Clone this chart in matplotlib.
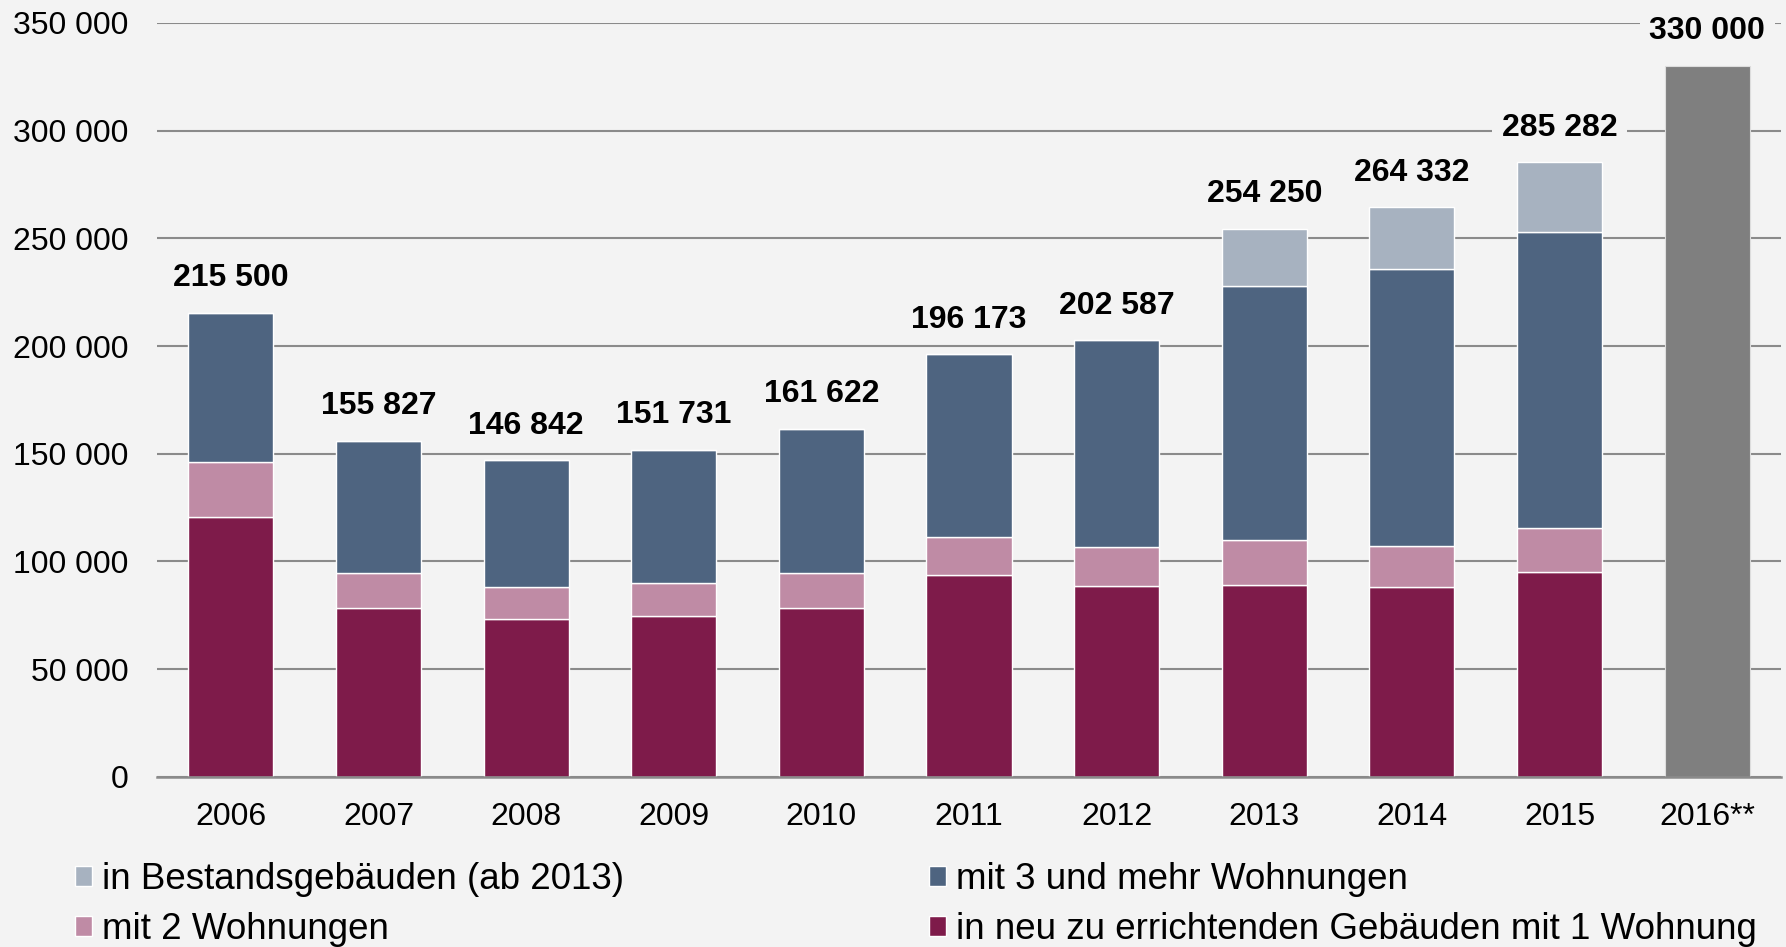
import matplotlib
matplotlib.use("Agg")
import matplotlib.pyplot as plt
import numpy as np

plt.rcParams['font.family'] = ['Liberation Sans', 'DejaVu Sans']

years = ["2006", "2007", "2008", "2009", "2010", "2011", "2012", "2013", "2014", "2015", "2016**"]
one_family = [120800, 78500, 73300, 74800, 78500, 93700, 88500, 89200, 88200, 95100, 0]
two_family = [25300, 16200, 15000, 15300, 16300, 17500, 18100, 20500, 19100, 20500, 0]
multi_family = [69400, 61127, 58542, 61631, 66822, 84973, 95987, 118000, 128500, 137200, 0]
existing = [0, 0, 0, 0, 0, 0, 0, 26550, 28532, 32482, 0]
forecast = [0, 0, 0, 0, 0, 0, 0, 0, 0, 0, 330000]
totals = [215500, 155827, 146842, 151731, 161622, 196173, 202587, 254250, 264332, 285282, 330000]

labels = {
    "existing": "in Bestandsgebäuden (ab 2013)",
    "two": "mit 2 Wohnungen",
    "multi": "mit 3 und mehr Wohnungen",
    "one": "in neu zu errichtenden Gebäuden mit 1 Wohnung",
}

bg = "#F3F3F3"
c_one = "#7E1B4A"
c_two = "#BF8BA5"
c_multi = "#4E6480"
c_exist = "#A7B2C0"
c_fc = "#7F7F7F"
grid_c = "#8A8A8A"

W, H = 1786, 947
fig = plt.figure(figsize=(W / 100, H / 100), dpi=100, facecolor=bg)
ax = fig.add_axes([157 / W, (H - 776.7) / H, (1781 - 157) / W, (776.7 - 23) / H])
ax.set_facecolor(bg)

x = np.arange(len(years))
bw = 0.576
kw = dict(width=bw, edgecolor="white", linewidth=1.0, zorder=2)
one = np.array(one_family)
two = np.array(two_family)
multi = np.array(multi_family)
ex = np.array(existing)

b_one = ax.bar(x, one, color=c_one, **kw)
b_two = ax.bar(x, two, bottom=one, color=c_two, **kw)
b_multi = ax.bar(x, multi, bottom=one + two, color=c_multi, **kw)
b_ex = ax.bar(x, ex, bottom=one + two + multi, color=c_exist, **kw)
ax.bar(x, forecast, color=c_fc, width=bw, edgecolor="#DDDDDD", linewidth=0.8, zorder=2)

fs = 23
for xi, t in zip(x, totals):
    ax.annotate(f"{t:,}".replace(",", " "), xy=(xi, t), xytext=(0, 25),
                textcoords="offset points", ha="center", va="center",
                fontsize=fs, fontweight="bold", color="black", zorder=4,
                bbox=dict(boxstyle="square,pad=0.3", facecolor=bg, edgecolor="none"))

ax.set_xlim(-0.5, len(years) - 0.5)
ax.set_ylim(0, 350000)
ax.set_yticks(np.arange(0, 350001, 50000))
ax.set_yticklabels([f"{v:,}".replace(",", " ") for v in np.arange(0, 350001, 50000)])
ax.set_xticks(x)
ax.set_xticklabels(years)
ax.tick_params(axis="y", length=0, pad=20.5, labelsize=fs)
ax.tick_params(axis="x", length=0, pad=18, labelsize=fs)
ax.yaxis.grid(True, color=grid_c, linewidth=1.5, zorder=0)
ax.set_axisbelow(True)
for s in ["top", "right", "left"]:
    ax.spines[s].set_visible(False)
ax.spines["bottom"].set_color(grid_c)
ax.spines["bottom"].set_linewidth(1.8)

handles = [b_ex, b_two, b_multi, b_one]
names = [labels["existing"], labels["two"], labels["multi"], labels["one"]]
fig.legend(handles, names, ncol=2, loc="upper left",
           bbox_to_anchor=(75 / W, (H - 862) / H), frameon=False,
           fontsize=26.5, handlelength=0.46, handleheight=0.46,
           handletextpad=0.27, columnspacing=8.3, labelspacing=0.42,
           borderpad=0, borderaxespad=0)

fig.savefig("out.png", dpi=100, facecolor=bg)
